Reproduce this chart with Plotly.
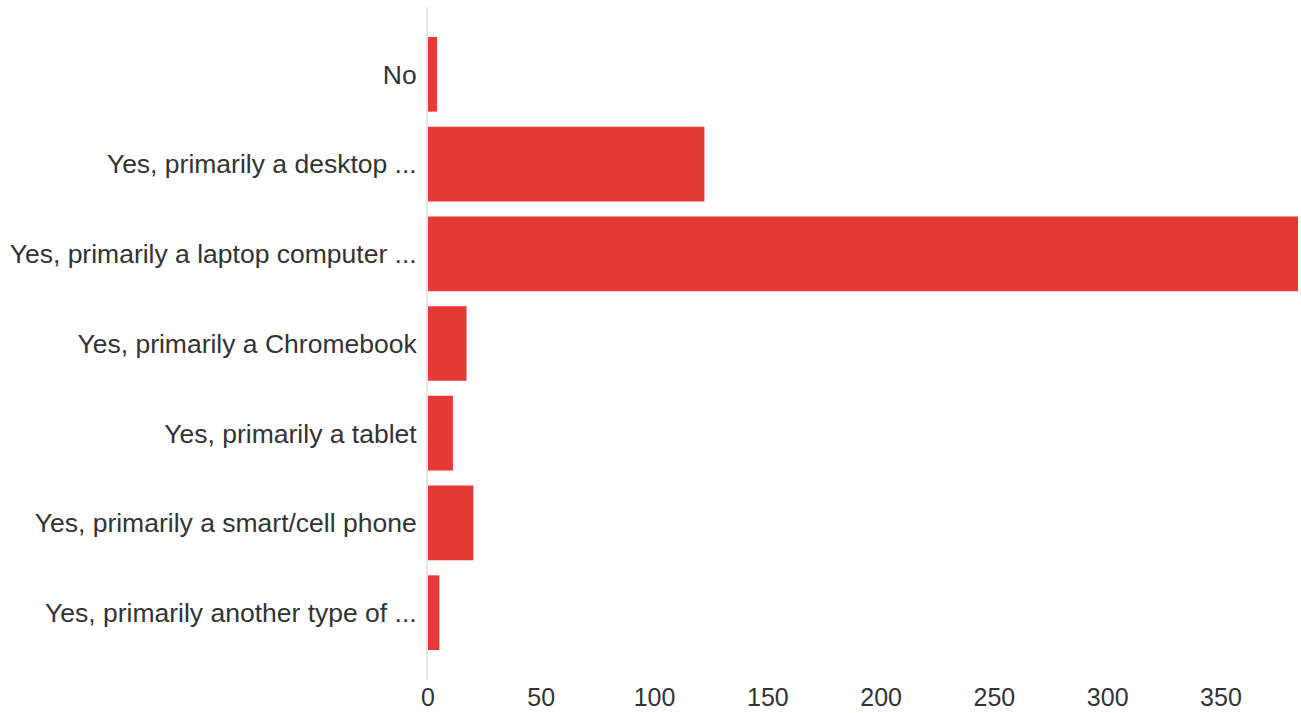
import plotly.graph_objects as go

categories = [
    "No",
    "Yes, primarily a desktop ...",
    "Yes, primarily a laptop computer ...",
    "Yes, primarily a Chromebook",
    "Yes, primarily a tablet",
    "Yes, primarily a smart/cell phone",
    "Yes, primarily another type of ...",
]
counts = [4, 122, 384, 17, 11, 20, 5]
x_ticks = [0, 50, 100, 150, 200, 250, 300, 350]

BAR_COLOR = "#e53935"
TEXT_COLOR = "#333333"
FONT = "Liberation Sans, Arial, sans-serif"

fig = go.Figure(
    go.Bar(
        x=counts,
        y=list(range(len(categories))),
        orientation="h",
        marker=dict(color=BAR_COLOR, line=dict(width=0)),
        width=0.833,
        hoverinfo="x+y",
    )
)

fig.update_layout(
    width=1301,
    height=713,
    margin=dict(l=428, r=3, t=7, b=33),
    paper_bgcolor="white",
    plot_bgcolor="white",
    showlegend=False,
    font=dict(family=FONT, color=TEXT_COLOR, size=24),
)

fig.update_xaxes(
    range=[0, max(counts)],
    tickvals=x_ticks,
    ticktext=[str(v) for v in x_ticks],
    showgrid=False,
    zeroline=False,
    showline=False,
    ticks="",
    tickfont=dict(size=25, color=TEXT_COLOR),
)

fig.update_yaxes(
    range=[len(categories) - 0.25, -0.75],
    tickvals=list(range(len(categories))),
    ticktext=categories,
    showgrid=False,
    zeroline=False,
    showline=True,
    linecolor="#e6e6e6",
    linewidth=2,
    ticks="",
    ticklabelstandoff=4,
    tickfont=dict(size=26.5, color=TEXT_COLOR),
)

fig.write_html("out.html")
